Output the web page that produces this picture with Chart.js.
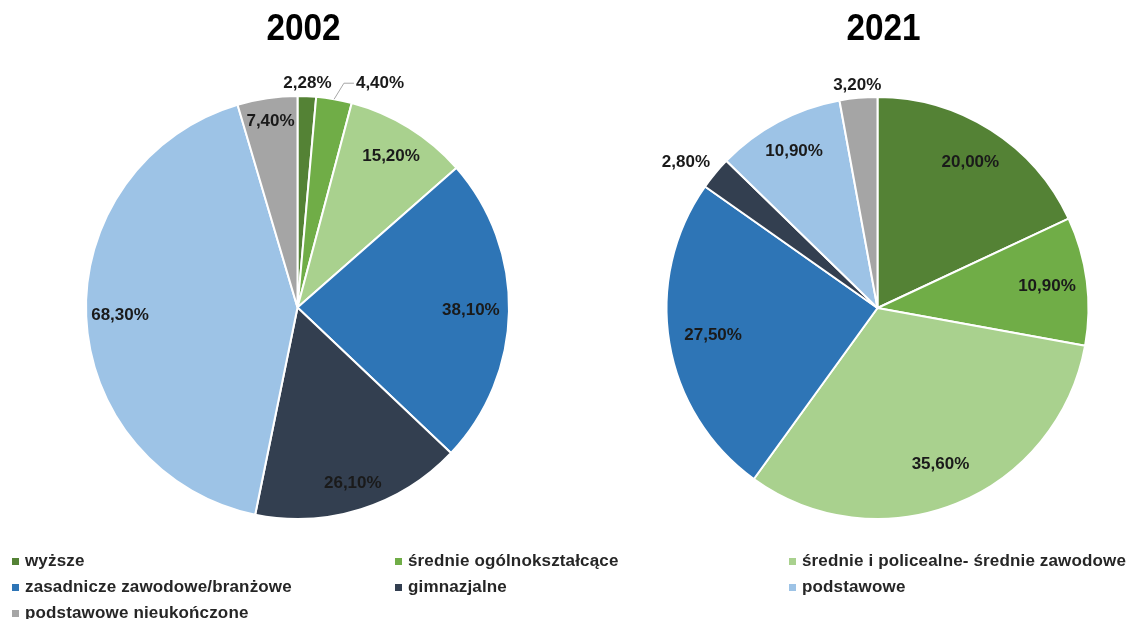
<!DOCTYPE html>
<html>
<head>
<meta charset="utf-8">
<script src="https://cdn.jsdelivr.net/npm/chart.js@4.4.1/dist/chart.umd.min.js"></script>
<style>
  html, body { margin: 0; padding: 0; background: #fff; }
  body { width: 1129px; height: 619px; position: relative; overflow: hidden; font-family: "Liberation Sans", Arial, sans-serif; }
  .pie { position: absolute; top: 0; height: 619px; }
  #legend { position: absolute; left: 0; top: 0; width: 1129px; height: 619px; pointer-events: none; }
  .item { position: absolute; font-weight: bold; font-size: 17px; letter-spacing: 0.15px; color: #262626; white-space: nowrap; line-height: 20px; }
  .item i { position: absolute; width: 7px; height: 7px; left: -13px; top: 7px; }
</style>
</head>
<body>
<div class="pie" style="left:0;width:560px"><canvas id="pie2002"></canvas></div>
<div class="pie" style="left:580px;width:549px"><canvas id="pie2021"></canvas></div>
<div id="legend"></div>
<script>
// categories and series
const categories = [
  'wyższe',
  'średnie ogólnokształcące',
  'średnie i policealne- średnie zawodowe',
  'zasadnicze zawodowe/branżowe',
  'gimnazjalne',
  'podstawowe',
  'podstawowe nieukończone'
];
const colors = ['#548235', '#70ad47', '#a9d18e', '#2e75b6', '#333f50', '#9dc3e6', '#a5a5a5'];
const values2002 = [2.28, 4.40, 15.20, 38.10, 26.10, 68.30, 7.40];
const values2021 = [20.00, 10.90, 35.60, 27.50, 2.80, 10.90, 3.20];

// label placement: radial factor, optional angle (deg from top) and leader line
const spots2002 = [
  { r: 1.06 },
  { r: 1.13, angle: 20.2, leader: true },
  { r: 0.84 },
  { r: 0.82 },
  { r: 0.87 },
  { r: 0.84 },
  { r: 0.89 }
];
const spots2021 = [
  { r: 0.82 },
  { r: 0.81 },
  { r: 0.80 },
  { r: 0.79 },
  { r: 1.14, angle: 307.2 },
  { r: 0.84 },
  { r: 1.06 }
];

const fmt = v => v.toFixed(2).replace('.', ',') + '%';

const pieLabels = {
  id: 'pieLabels',
  afterDatasetsDraw(chart, args, opts) {
    const ctx = chart.ctx;
    const meta = chart.getDatasetMeta(0);
    const values = chart.data.datasets[0].data;
    ctx.save();
    ctx.font = 'bold 17px "Liberation Sans", Arial, sans-serif';
    ctx.fillStyle = '#1a1a1a';
    ctx.textAlign = 'center';
    ctx.textBaseline = 'middle';
    meta.data.forEach((arc, i) => {
      const p = arc.getProps(['x', 'y', 'startAngle', 'endAngle', 'outerRadius'], true);
      const mid = (p.startAngle + p.endAngle) / 2;
      const spot = opts.spots[i];
      const a = spot.angle !== undefined ? spot.angle * Math.PI / 180 - Math.PI / 2 : mid;
      const lx = p.x + Math.cos(a) * p.outerRadius * spot.r;
      const ly = p.y + Math.sin(a) * p.outerRadius * spot.r;
      const text = fmt(values[i]);
      if (spot.leader) {
        const half = ctx.measureText(text).width / 2;
        ctx.strokeStyle = '#a6a6a6';
        ctx.lineWidth = 1;
        ctx.beginPath();
        ctx.moveTo(p.x + Math.cos(mid) * p.outerRadius, p.y + Math.sin(mid) * p.outerRadius);
        ctx.lineTo(lx - half - 12, ly);
        ctx.lineTo(lx - half - 2, ly);
        ctx.stroke();
      }
      ctx.fillText(text, lx, ly);
    });
    // year title above the pie
    const cx = meta.data[0].x;
    ctx.fillStyle = '#000';
    ctx.font = 'bold 37px "Liberation Sans", Arial, sans-serif';
    ctx.translate(cx + 6, 30);
    ctx.scale(0.9, 1);
    ctx.fillText(opts.title, 0, 0);
    ctx.restore();
  }
};

function makePie(id, values, spots, title, padding) {
  return new Chart(document.getElementById(id), {
    type: 'pie',
    data: {
      labels: categories,
      datasets: [{
        data: values,
        backgroundColor: colors,
        borderColor: '#fff',
        borderWidth: 2,
        hoverOffset: 0
      }]
    },
    options: {
      responsive: true,
      maintainAspectRatio: false,
      animation: false,
      layout: { padding: padding },
      plugins: {
        legend: { display: false },
        tooltip: { enabled: false },
        pieLabels: { spots: spots, title: title }
      }
    },
    plugins: [pieLabels]
  });
}

makePie('pie2002', values2002, spots2002, '2002', { left: 85, right: 50, top: 95, bottom: 99 });
makePie('pie2021', values2021, spots2021, '2021', { left: 85, right: 39, top: 96, bottom: 99 });

// legend in three columns
const legendCols = [25, 408, 802];
const legendRows = [551, 577, 603];
const legend = document.getElementById('legend');
categories.forEach((name, i) => {
  const d = document.createElement('div');
  d.className = 'item';
  d.style.left = legendCols[i % 3] + 'px';
  d.style.top = legendRows[Math.floor(i / 3)] + 'px';
  d.innerHTML = '<i style="background:' + colors[i] + '"></i>' + name;
  legend.appendChild(d);
});
</script>
</body>
</html>
